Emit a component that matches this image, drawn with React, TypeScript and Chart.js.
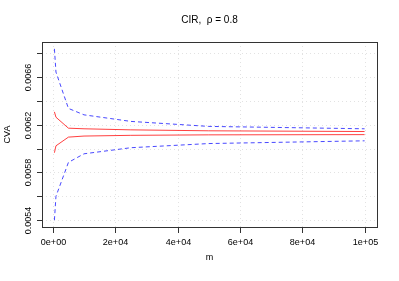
import React, { useEffect, useRef } from "react";
import { Chart, registerables } from "chart.js";

Chart.register(...registerables);

// ---- data ----
const mValues = [500, 1000, 5000, 10000, 25000, 50000, 100000];
const ciUpper = [0.006838, 0.006643, 0.006338, 0.006284, 0.006229, 0.006187, 0.006167];
const estUpper = [0.006309, 0.006264, 0.006172, 0.006167, 0.006158, 0.00615, 0.006144];
const estLower = [0.005966, 0.006024, 0.006097, 0.006106, 0.006112, 0.006116, 0.006118];
const ciLower = [0.0054, 0.0056, 0.005885, 0.005957, 0.006008, 0.006043, 0.006066];

const xTickValues = [0, 20000, 40000, 60000, 80000, 100000];
const xTickLabels = ["0e+00", "2e+04", "4e+04", "6e+04", "8e+04", "1e+05"];
const yTickValues = [0.0054, 0.0056, 0.0058, 0.006, 0.0062, 0.0064, 0.0066, 0.0068];
const yTickLabels = ["0.0054", "", "0.0058", "", "0.0062", "", "0.0066", ""];

const titleText = "CIR,  \u03C1 = 0.8";
const xTitle = "m";
const yTitle = "CVA";

const FONT = "'Liberation Sans', Arial, Helvetica, sans-serif";

function extend(vals: number[]) {
  const lo = Math.min(...vals);
  const hi = Math.max(...vals);
  const d = (hi - lo) * 0.04;
  return [lo - d, hi + d];
}

export default function App() {
  const ref = useRef<HTMLCanvasElement | null>(null);

  useEffect(() => {
    if (!ref.current) return;
    const [xMin, xMax] = extend(mValues);
    const [yMin, yMax] = extend([...ciUpper, ...estUpper, ...estLower, ...ciLower]);

    const rPlot = {
      id: "rPlot",
      beforeDatasetsDraw(chart: any) {
        const { ctx, chartArea: a, scales } = chart;
        const xs = scales.x, ys = scales.y;
        ctx.save();
        ctx.strokeStyle = "#e2e2e2";
        ctx.lineWidth = 1;
        ctx.setLineDash([1, 3]);
        xTickValues.forEach((v) => {
          const px = Math.round(xs.getPixelForValue(v)) + 0.5;
          ctx.beginPath();
          ctx.moveTo(px, a.top);
          ctx.lineTo(px, a.bottom);
          ctx.stroke();
        });
        yTickValues.forEach((v) => {
          const py = Math.round(ys.getPixelForValue(v)) + 0.5;
          ctx.beginPath();
          ctx.moveTo(a.left, py);
          ctx.lineTo(a.right, py);
          ctx.stroke();
        });
        ctx.restore();
      },
      afterDraw(chart: any) {
        const { ctx, chartArea: a, scales } = chart;
        const xs = scales.x, ys = scales.y;
        ctx.save();
        ctx.setLineDash([]);
        ctx.strokeStyle = "#333";
        ctx.lineWidth = 1;
        // box
        ctx.strokeRect(Math.round(a.left) + 0.5, Math.round(a.top) + 0.5,
          Math.round(a.right - a.left), Math.round(a.bottom - a.top));
        // x ticks
        ctx.fillStyle = "#000";
        ctx.font = `9px ${FONT}`;
        ctx.textAlign = "center";
        ctx.textBaseline = "middle";
        xTickValues.forEach((v, i) => {
          const px = Math.round(xs.getPixelForValue(v)) + 0.5;
          ctx.beginPath();
          ctx.moveTo(px, Math.round(a.bottom) + 0.5);
          ctx.lineTo(px, Math.round(a.bottom) + 6);
          ctx.stroke();
          ctx.fillText(xTickLabels[i], px, a.bottom + 16);
        });
        // y ticks
        yTickValues.forEach((v, i) => {
          const py = Math.round(ys.getPixelForValue(v)) + 0.5;
          ctx.beginPath();
          ctx.moveTo(Math.round(a.left) + 0.5, py);
          ctx.lineTo(Math.round(a.left) - 5, py);
          ctx.stroke();
          if (yTickLabels[i]) {
            ctx.save();
            ctx.translate(a.left - 13, py);
            ctx.rotate(-Math.PI / 2);
            ctx.fillText(yTickLabels[i], 0, 0);
            ctx.restore();
          }
        });
        // axis titles
        ctx.fillText(xTitle, (a.left + a.right) / 2, a.bottom + 31);
        ctx.save();
        ctx.translate(8, (a.top + a.bottom) / 2);
        ctx.rotate(-Math.PI / 2);
        ctx.fillText(yTitle, 0, 0);
        ctx.restore();
        // main title
        ctx.font = `10px ${FONT}`;
        ctx.fillText(titleText, (a.left + a.right) / 2, 20);
        ctx.restore();
      },
    };

    const mk = (vals: number[]) => mValues.map((m, i) => ({ x: m, y: vals[i] }));
    const blue = "rgba(40,40,255,0.85)";
    const red = "rgba(255,30,30,0.85)";

    const chart = new Chart(ref.current, {
      type: "line",
      data: {
        datasets: [
          { label: "ciUpper", data: mk(ciUpper), borderColor: blue, borderDash: [4, 3], borderWidth: 1, pointRadius: 0, tension: 0, fill: false },
          { label: "estUpper", data: mk(estUpper), borderColor: red, borderWidth: 1, pointRadius: 0, tension: 0, fill: false },
          { label: "estLower", data: mk(estLower), borderColor: red, borderWidth: 1, pointRadius: 0, tension: 0, fill: false },
          { label: "ciLower", data: mk(ciLower), borderColor: blue, borderDash: [4, 3], borderWidth: 1, pointRadius: 0, tension: 0, fill: false },
        ],
      },
      options: {
        responsive: false,
        animation: false,
        layout: { padding: { left: 42, top: 42, right: 22, bottom: 54 } },
        plugins: { legend: { display: false }, tooltip: { enabled: false }, title: { display: false } },
        scales: {
          x: { type: "linear", display: false, min: xMin, max: xMax },
          y: { type: "linear", display: false, min: yMin, max: yMax },
        },
      },
      plugins: [rPlot],
    });
    return () => chart.destroy();
  }, []);

  return (
    <div style={{ position: "fixed", left: 0, top: 0, width: 399, height: 281, background: "#fff" }}>
      <canvas ref={ref} width={399} height={281} style={{ width: 399, height: 281, display: "block" }} />
    </div>
  );
}
